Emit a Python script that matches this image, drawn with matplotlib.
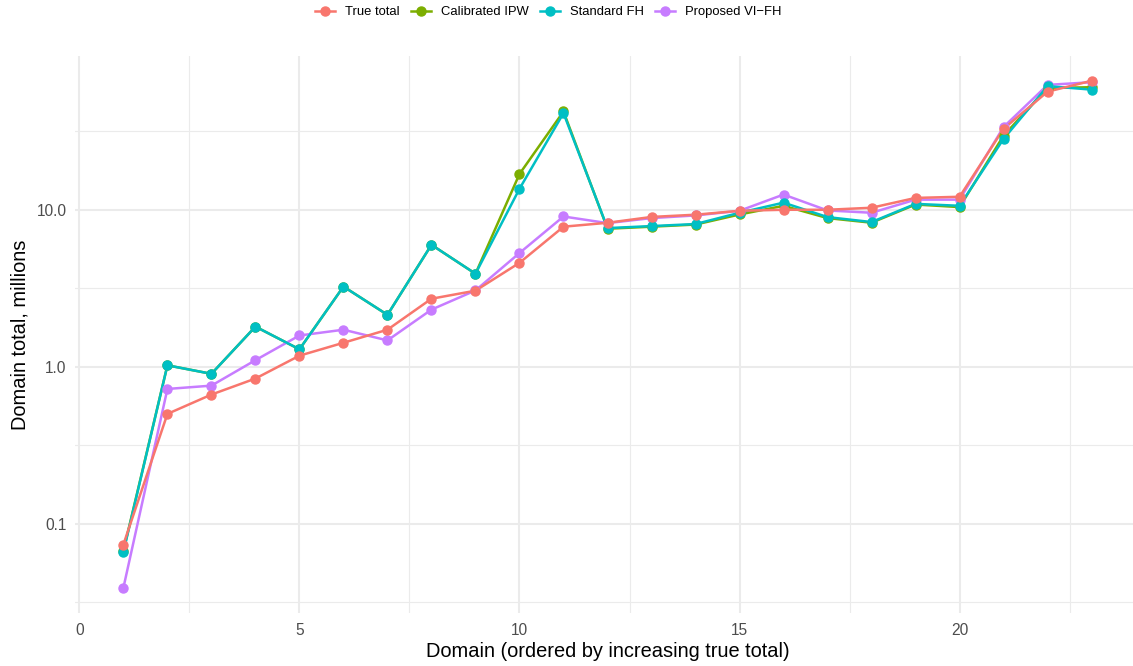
import numpy as np
import matplotlib.pyplot as plt
from matplotlib.ticker import FixedLocator, FuncFormatter

plt.rcParams['font.family'] = ['Liberation Sans', 'DejaVu Sans']

# data (millions), domains ordered by true total
domain = list(range(1, 24))
true_total = [0.0735, 0.50, 0.664, 0.84, 1.175, 1.42, 1.72, 2.71, 3.05, 4.59, 7.8,
              8.26, 9.0, 9.3, 9.85, 10.0, 10.0, 10.3, 11.9, 12.1, 32.8, 56.6, 66.4]
calibrated_ipw = [0.067, 1.02, 0.90, 1.80, 1.29, 3.24, 2.14, 5.98, 3.91, 16.9, 42.3,
                  7.57, 7.80, 8.05, 9.33, 10.6, 8.85, 8.27, 10.8, 10.4, 29.7, 59.7, 60.4]
standard_fh = [0.066, 1.02, 0.90, 1.80, 1.29, 3.24, 2.14, 5.98, 3.91, 13.6, 41.3,
               7.64, 7.87, 8.11, 9.57, 11.1, 8.98, 8.35, 10.9, 10.6, 28.3, 61.4, 58.3]
proposed_vifh = [0.039, 0.721, 0.757, 1.10, 1.58, 1.72, 1.47, 2.31, 3.06, 5.30, 9.06,
                 8.22, 8.85, 9.2, 9.85, 12.5, 9.9, 9.57, 11.6, 11.6, 33.7, 62.5, 65.0]

labels = ['True total', 'Calibrated IPW', 'Standard FH', 'Proposed VI\u2212FH']
colors = ['#F8766D', '#7CAE00', '#00BFC4', '#C77CFF']
series = [true_total, calibrated_ipw, standard_fh, proposed_vifh]

fig = plt.figure(figsize=(11.33, 6.66), dpi=100)
# panel runs a bit past the right edge, like the original export
ax = fig.add_axes([75/1133, 53/666, 1065/1133, 557/666])

# draw order like ggplot factor levels (alphabetical): green, purple, teal, red
order = [1, 3, 2, 0]
for i in order:
    ax.plot(domain, series[i], color=colors[i], lw=1.8, zorder=3, solid_capstyle='butt')
for i in order:
    ax.plot(domain, series[i], color=colors[i], marker='o', markersize=6.5,
            linestyle='none', zorder=4)

ax.set_yscale('log')
ax.set_ylim(10**-1.57, 10**1.98)
ax.set_xlim(-0.1, 24.1)

ax.yaxis.set_major_locator(FixedLocator([0.1, 1, 10]))
ax.yaxis.set_minor_locator(FixedLocator([10**-1.5, 10**-0.5, 10**0.5, 10**1.5]))
ax.yaxis.set_major_formatter(FuncFormatter(lambda v, p: f'{v:.1f}'))
ax.yaxis.set_minor_formatter(FuncFormatter(lambda v, p: ''))
ax.xaxis.set_major_locator(FixedLocator([0, 5, 10, 15, 20]))
ax.xaxis.set_minor_locator(FixedLocator([2.5, 7.5, 12.5, 17.5, 22.5]))

ax.grid(which='major', color='#EBEBEB', lw=1.5)
ax.grid(which='minor', color='#EBEBEB', lw=0.8)
ax.set_axisbelow(True)
for s in ax.spines.values():
    s.set_visible(False)
ax.tick_params(which='both', length=0, labelsize=11.2, labelcolor='#4D4D4D')
ax.tick_params(axis='x', pad=7)
ax.tick_params(axis='y', pad=6)

ax.set_xlabel('Domain (ordered by increasing true total)', fontsize=14.4, labelpad=3)
ax.set_ylabel('Domain total, millions', fontsize=14.4, labelpad=5)

leg_h = [plt.Line2D([], [], color=c, lw=1.8, marker='o', markersize=6.5) for c in colors]
fig.legend(leg_h, labels, loc='center', bbox_to_anchor=(548/1133, 1 - 12/666), ncol=4,
           frameon=False, fontsize=9.4, handlelength=1.55, handletextpad=0.75,
           columnspacing=0.85, numpoints=1)

fig.savefig('out.png', dpi=100)
